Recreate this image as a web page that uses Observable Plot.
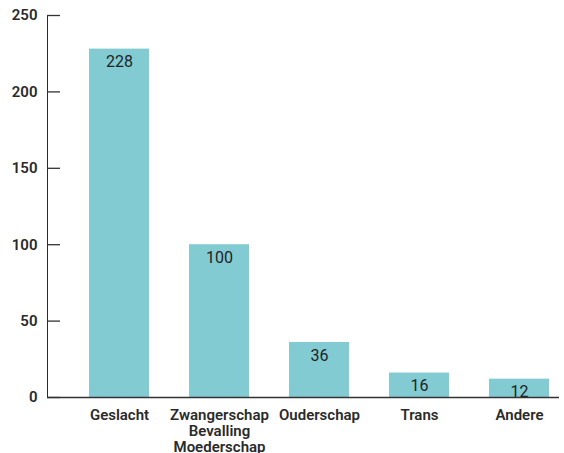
<!DOCTYPE html>
<html>
<head>
<meta charset="utf-8">
<script src="https://cdn.jsdelivr.net/npm/d3@7"></script>
<script src="https://cdn.jsdelivr.net/npm/@observablehq/plot@0.6"></script>
<style>
  html, body { margin: 0; padding: 0; background: #fff; }
</style>
</head>
<body>
<div id="chart"></div>
<script>
const categories = ["Geslacht", "Zwangerschap\nBevalling\nMoederschap", "Ouderschap", "Trans", "Andere"];
const counts = [228, 100, 36, 16, 12];
const yTicks = [0, 50, 100, 150, 200, 250];

const data = categories.map((c, i) => ({category: c, count: counts[i]}));

const W = 564, H = 453, ML = 47, MR = 5;

const chart = Plot.plot({
  width: W,
  height: H,
  marginLeft: ML,
  marginRight: MR,
  marginTop: 15,
  marginBottom: 56,
  style: {fontFamily: "Roboto, sans-serif", fontSize: "14px", color: "#2a2a2a", background: "#fff"},
  x: {
    domain: categories,
    paddingInner: 0.4,
    paddingOuter: 0.26,
    align: 0.808,
    label: null
  },
  y: {
    domain: [0, 250],
    ticks: yTicks,
    label: null,
    tickSize: 0,
    tickPadding: 10,
    line: true
  },
  marks: [
    Plot.barY(data, {x: "category", y: "count", fill: "#83cbd3"}),
    Plot.text(data, {x: "category", y: "count", text: d => String(d.count), dy: 13, fontSize: 16, fill: "#222"}),
    Plot.ruleY(yTicks, {insetRight: W - ML - MR - 13, stroke: "#333", strokeWidth: 1.3}),
    Plot.ruleY([0], {stroke: "#333", strokeWidth: 1.5}),
    Plot.axisX({tickSize: 0, tickPadding: 11, fontSize: 15, fontWeight: 600, lineHeight: 1.08, label: null, fill: "#2a2a2a"})
  ]
});
chart.querySelectorAll("g[aria-label='y-axis tick label']").forEach(g => { g.setAttribute("font-weight", "600"); g.setAttribute("font-size", "15"); });
document.getElementById("chart").appendChild(chart);
</script>
</body>
</html>
